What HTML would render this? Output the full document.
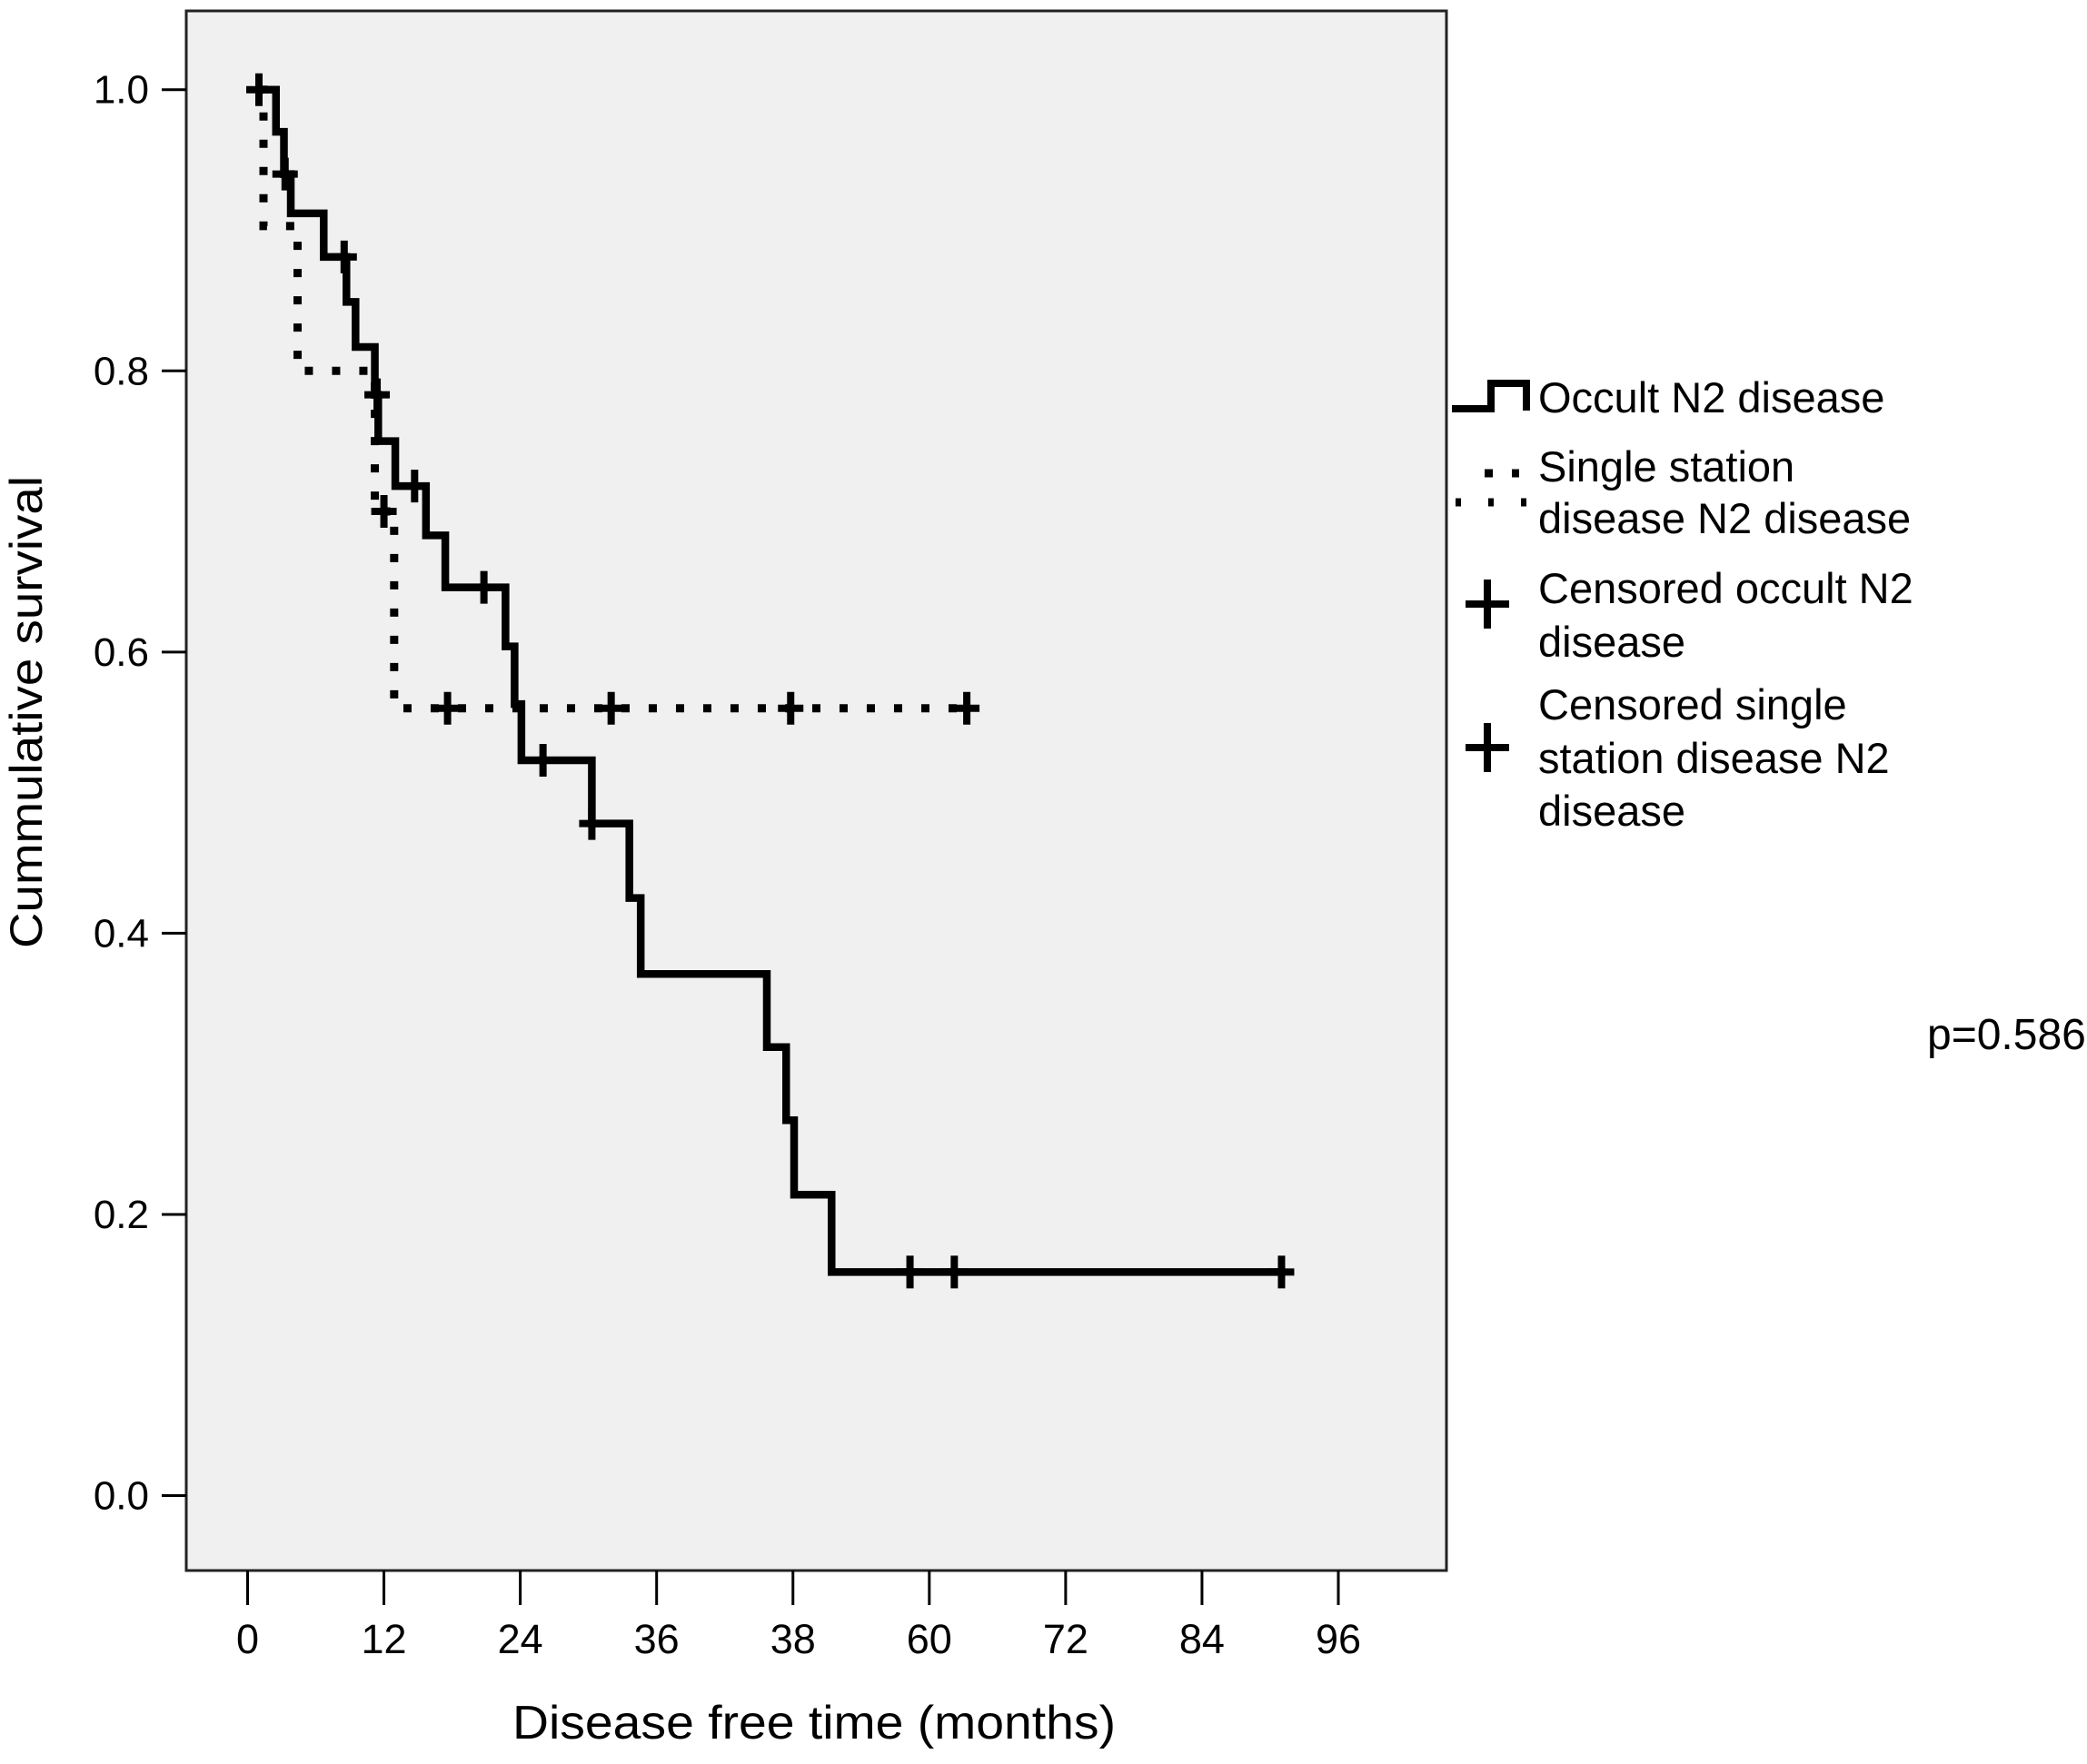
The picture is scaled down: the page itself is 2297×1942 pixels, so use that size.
<!DOCTYPE html>
<html><head><meta charset="utf-8"><style>
html,body{margin:0;padding:0;background:#fff;}
svg{display:block;font-family:"Liberation Sans",Arial,sans-serif;}
</style></head><body>
<svg id="chart" width="2297" height="1942" viewBox="0 0 2297 1942" xmlns="http://www.w3.org/2000/svg">
<rect x="205" y="12" width="1387" height="1717" fill="#f0f0f0" stroke="#222" stroke-width="3"/>
<g id="axes"></g>
<g id="series"></g>
<text transform="translate(46,784) rotate(-90)" text-anchor="middle" font-size="50" textLength="520" lengthAdjust="spacingAndGlyphs" fill="#000">Cummulative survival</text>
<text x="896" y="1914" text-anchor="middle" font-size="52" textLength="664" lengthAdjust="spacingAndGlyphs" fill="#000">Disease free time (months)</text>
<g>
  <path d="M1598 450 H1641 V422 H1680 V452" fill="none" stroke="#000" stroke-width="8"/>
  <path d="M1634 521 H1672" fill="none" stroke="#000" stroke-width="9" stroke-dasharray="9 21"/>
  <path d="M1600 553 H1684" fill="none" stroke="#000" stroke-width="9" stroke-dasharray="6 30" stroke-dashoffset="-2"/>
  <path d="M1613 665 H1661 M1637 638 V692" stroke="#000" stroke-width="8"/>
  <path d="M1613 823 H1661 M1637 796 V850" stroke="#000" stroke-width="8"/>
  <g font-size="47" fill="#000">
    <text x="1693" y="454">Occult N2 disease</text>
    <text x="1693" y="530">Single station</text>
    <text x="1693" y="587">disease N2 disease</text>
    <text x="1693" y="664">Censored occult N2</text>
    <text x="1693" y="723">disease</text>
    <text x="1693" y="792">Censored single</text>
    <text x="1693" y="851">station disease N2</text>
    <text x="1693" y="909">disease</text>
  </g>
</g>
<text x="2121" y="1155" font-size="48" fill="#000">p=0.586</text>
</svg>
<script>
const xTickValues = [0, 12, 24, 36, 48, 60, 72, 84, 96];
const xTickLabels = ["0", "12", "24", "36", "38", "60", "72", "84", "96"];
const yTickValues = [0, 0.2, 0.4, 0.6, 0.8, 1.0];
const yTickLabels = ["0.0", "0.2", "0.4", "0.6", "0.8", "1.0"];

const occultStart = 1.0;
const occultEnd = 91.2;
const occultTimes = [2.5, 3.2, 3.8, 6.7, 8.7, 9.5, 11.2, 11.5, 13.0, 15.7, 17.4, 22.7, 23.5, 24.1, 30.3, 33.6, 34.6, 45.7, 47.4, 48.1, 51.4];
const occultSurv  = [0.97, 0.94, 0.912, 0.881, 0.849, 0.817, 0.783, 0.75, 0.718, 0.683, 0.646, 0.604, 0.563, 0.523, 0.478, 0.425, 0.371, 0.319, 0.267, 0.214, 0.159];
const occultCensorTimes = [1.0, 3.3, 8.5, 11.4, 14.7, 20.8, 26.0, 30.3, 58.3, 62.2, 91.0];

const singleStart = 1.0;
const singleEnd = 63.5;
const singleTimes = [1.4, 4.4, 11.2, 12.9];
const singleSurv  = [0.903, 0.80, 0.70, 0.56];
const singleCensorTimes = [12.0, 17.6, 32.0, 47.8, 63.3];

const NS = "http://www.w3.org/2000/svg";
const X0 = 272.5, XS = (1473 - 272.5) / 96;
const Y0 = 1646.5, YS = (1646.5 - 98.7);
function xScale(t){ return X0 + t * XS; }
function yScale(v){ return Y0 - v * YS; }
function mk(tag, attrs, parent){ const e = document.createElementNS(NS, tag); for (const k in attrs) e.setAttribute(k, attrs[k]); parent.appendChild(e); return e; }

const axes = document.getElementById('axes');
xTickValues.forEach((v, i) => {
  const x = xScale(v);
  const tk = mk('line', {x1:x, x2:x, y1:1729, y2:1767, stroke:'#000', 'stroke-width':3}, axes);
  
  
  const lb = mk('text', {x:x, y:1820, 'text-anchor':'middle', 'font-size':45, fill:'#000'}, axes);
  lb.textContent = xTickLabels[i];
  
  
});
yTickValues.forEach((v, i) => {
  const y = yScale(v);
  const tk = mk('line', {x1:178, x2:205, y1:y, y2:y, stroke:'#000', 'stroke-width':3}, axes);
  
  
  const lb = mk('text', {x:164, y:y + 15, 'text-anchor':'end', 'font-size':44, fill:'#000'}, axes);
  lb.textContent = yTickLabels[i];
  
  
});

function stepPath(start, times, surv, end){
  let v = 1.0;
  let d = 'M' + xScale(start) + ' ' + yScale(v);
  times.forEach((t, i) => { d += ' H' + xScale(t) + ' V' + yScale(surv[i]); v = surv[i]; });
  d += ' H' + xScale(end);
  return d;
}
function survAt(t, times, surv){
  let v = 1.0;
  for (let i = 0; i < times.length; i++) { if (times[i] <= t) v = surv[i]; }
  return v;
}
const series = document.getElementById('series');
const sp = mk('path', {d:stepPath(singleStart, singleTimes, singleSurv, singleEnd), fill:'none', stroke:'#000', 'stroke-width':9, 'stroke-dasharray':'9 21'}, series);


const op = mk('path', {d:stepPath(occultStart, occultTimes, occultSurv, occultEnd), fill:'none', stroke:'#000', 'stroke-width':8.5, 'stroke-linejoin':'miter'}, series);



function censor(t, v, name){
  const x = xScale(t), y = yScale(v);
  const c = mk('path', {d:'M'+(x-14)+' '+y+' H'+(x+14)+' M'+x+' '+(y-18)+' V'+(y+18), stroke:'#000', 'stroke-width':8}, series);
  
  
}
singleCensorTimes.forEach(t => censor(t, survAt(t, singleTimes, singleSurv), 'censor-single'));
occultCensorTimes.forEach(t => censor(t, survAt(t, occultTimes, occultSurv), 'censor-occult'));
</script>
</body></html>
